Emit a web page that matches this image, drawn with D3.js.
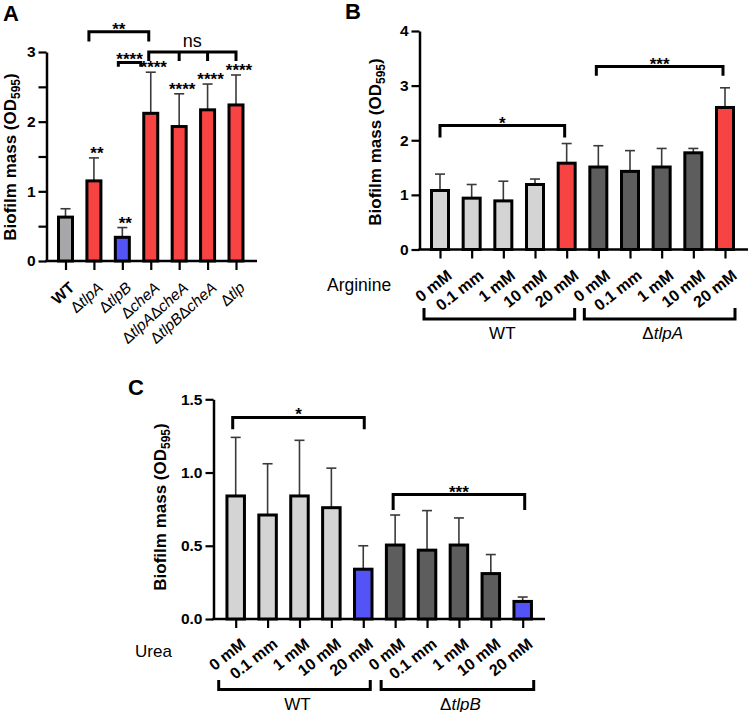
<!DOCTYPE html>
<html>
<head>
<meta charset="utf-8">
<script src="https://cdn.jsdelivr.net/npm/d3@7"></script>
<style>
  html, body { margin: 0; padding: 0; background: #fff; }
  svg { display: block; }
</style>
</head>
<body>
<svg id="chart" width="748" height="712"></svg>
<script>
// ---------------- DATA ----------------
// Panel A
const catsA = ["WT", "ΔtlpA", "ΔtlpB", "ΔcheA", "ΔtlpAΔcheA", "ΔtlpBΔcheA", "Δtlp"];
const meanA = [0.63, 1.15, 0.34, 2.12, 1.93, 2.17, 2.24];
const sdA   = [0.12, 0.33, 0.14, 0.59, 0.47, 0.37, 0.43];
const sigA  = ["", "**", "**", "****", "****", "****", "****"];
const colorKeyA = ["wtA", "red", "blue", "red", "red", "red", "red"];
const yTicksA = [0, 1, 2, 3];
const yMinorA = [0.5, 1.5, 2.5];

// Panel B (Arginine)
const concB   = ["0 mM", "0.1 mm", "1 mM", "10 mM", "20 mM", "0 mM", "0.1 mm", "1 mM", "10 mM", "20 mM"];
const strainB = ["WT", "WT", "WT", "WT", "WT", "ΔtlpA", "ΔtlpA", "ΔtlpA", "ΔtlpA", "ΔtlpA"];
const meanB   = [1.08, 0.94, 0.89, 1.19, 1.58, 1.51, 1.43, 1.51, 1.77, 2.60];
const sdB     = [0.30, 0.25, 0.36, 0.10, 0.36, 0.39, 0.38, 0.34, 0.08, 0.36];
const colorKeyB = ["light", "light", "light", "light", "red", "dark", "dark", "dark", "dark", "red"];
const yTicksB = [0, 1, 2, 3, 4];

// Panel C (Urea)
const concC   = ["0 mM", "0.1 mm", "1 mM", "10 mM", "20 mM", "0 mM", "0.1 mm", "1 mM", "10 mM", "20 mM"];
const strainC = ["WT", "WT", "WT", "WT", "WT", "ΔtlpB", "ΔtlpB", "ΔtlpB", "ΔtlpB", "ΔtlpB"];
const meanC   = [0.84, 0.71, 0.84, 0.76, 0.34, 0.505, 0.47, 0.505, 0.31, 0.12];
const sdC     = [0.40, 0.35, 0.38, 0.27, 0.16, 0.205, 0.27, 0.185, 0.13, 0.03];
const colorKeyC = ["light", "light", "light", "light", "blue", "dark", "dark", "dark", "dark", "blue"];
const yTicksC = [0, 0.5, 1.0, 1.5];

// ---------------- STYLE ----------------
const FONT = "'Liberation Sans', Arial, Helvetica, sans-serif";
const COLORS = { wtA: "#a7a7a9", red: "#f84343", blue: "#5454f6", light: "#d4d4d4", dark: "#5d5d5d" };

const svg = d3.select("#chart").style("font-family", FONT);

function yLabel(g, cx, cy) {
  const t = g.append("text")
    .attr("transform", `translate(${cx},${cy}) rotate(-90)`)
    .attr("text-anchor", "middle")
    .attr("font-size", 17).attr("font-weight", "bold").attr("fill", "#000");
  t.append("tspan").text("Biofilm mass (OD");
  t.append("tspan").attr("font-size", 12).attr("dy", 4).text("595");
  t.append("tspan").attr("dy", -4).text(")");
}

function drawAxes(g, x, y, x0, x1, ticks, fmt, minor) {
  const y0 = y(0);
  const ya = g.append("g").attr("transform", `translate(${x0},0)`)
    .call(d3.axisLeft(y).tickValues(ticks).tickFormat(fmt).tickSize(8).tickSizeOuter(0));
  ya.select(".domain").attr("stroke", "#000").attr("stroke-width", 2.5);
  ya.selectAll(".tick line").attr("stroke", "#000").attr("stroke-width", 2.2);
  ya.selectAll(".tick text").attr("font-family", FONT).attr("font-size", 15.5)
    .attr("font-weight", "bold").attr("fill", "#000").attr("x", -11);
  if (minor) {
    const ym = g.append("g").attr("transform", `translate(${x0},0)`)
      .call(d3.axisLeft(y).tickValues(minor).tickFormat("").tickSize(8).tickSizeOuter(0));
    ym.select(".domain").remove();
    ym.selectAll(".tick line").attr("stroke", "#000").attr("stroke-width", 2.2);
  }
  g.append("line").attr("x1", x0 - 1.2).attr("x2", x1).attr("y1", y0).attr("y2", y0)
    .attr("stroke", "#000").attr("stroke-width", 2.5);
  const xa = g.append("g").attr("transform", `translate(0,${y0})`)
    .call(d3.axisBottom(x).tickFormat("").tickSize(9).tickSizeOuter(0));
  xa.select(".domain").remove();
  xa.selectAll(".tick line").attr("stroke", "#000").attr("stroke-width", 2.2);
}

function drawBars(g, x, y, means, sds, keys, w) {
  const idx = d3.range(means.length);
  g.selectAll(null).data(idx).join("line")
    .attr("x1", i => x(i)).attr("x2", i => x(i))
    .attr("y1", i => y(means[i])).attr("y2", i => y(means[i] + sds[i]))
    .attr("stroke", "#3a3a3a").attr("stroke-width", 1.6);
  g.selectAll(null).data(idx).join("line")
    .attr("x1", i => x(i) - 5).attr("x2", i => x(i) + 5)
    .attr("y1", i => y(means[i] + sds[i])).attr("y2", i => y(means[i] + sds[i]))
    .attr("stroke", "#3a3a3a").attr("stroke-width", 1.6);
  g.selectAll(null).data(idx).join("rect")
    .attr("x", i => x(i) - w / 2).attr("width", w)
    .attr("y", i => y(means[i])).attr("height", i => y(0) - y(means[i]))
    .attr("fill", i => COLORS[keys[i]]).attr("stroke", "#000").attr("stroke-width", 3);
}

function bracket(g, xs, yTop, yLegs, label) {
  let d = `M${xs[0]},${yLegs[0]}V${yTop}H${xs[xs.length - 1]}V${yLegs[yLegs.length - 1]}`;
  for (let k = 1; k < xs.length - 1; k++) d += `M${xs[k]},${yTop}V${yLegs[k]}`;
  g.append("path").attr("d", d).attr("fill", "none").attr("stroke", "#000").attr("stroke-width", 3);
  if (label) {
    const cx = (xs[0] + xs[xs.length - 1]) / 2;
    const isStar = label.indexOf("*") >= 0;
    g.append("text").attr("x", cx).attr("y", isStar ? yTop + 3 : yTop - 5)
      .attr("text-anchor", "middle")
      .attr("font-size", isStar ? 17 : 18).attr("font-weight", isStar ? "bold" : "normal")
      .attr("fill", "#000").text(label);
  }
}

function groupBracket(g, xa, xb, yLeg, yBot, label, italicPart) {
  g.append("path").attr("d", `M${xa},${yLeg}V${yBot}H${xb}V${yLeg}`)
    .attr("fill", "none").attr("stroke", "#000").attr("stroke-width", 3);
  const t = g.append("text").attr("x", (xa + xb) / 2 + 3).attr("y", yBot + 20)
    .attr("text-anchor", "middle").attr("font-size", 17).attr("fill", "#000");
  if (italicPart) {
    t.append("tspan").text("Δ");
    t.append("tspan").attr("font-style", "italic").text(italicPart);
  } else t.text(label);
}

function strainText(sel, name) {
  const parts = name.split("Δ");
  if (parts.length === 1) { sel.attr("font-weight", "bold").text(name); return; }
  parts.forEach((p, k) => {
    if (k > 0) sel.append("tspan").attr("font-style", "normal").text("Δ");
    if (p) sel.append("tspan").attr("font-style", "italic").text(p);
  });
}

// ---------------- PANEL A ----------------
{
  const g = svg.append("g");
  const x = d3.scalePoint().domain(d3.range(catsA.length)).range([65.5, 236]);
  const y = d3.scaleLinear().domain([0, 3]).range([261, 52]);
  drawAxes(g, x, y, 46.5, 257, yTicksA, d3.format("d"), yMinorA);
  drawBars(g, x, y, meanA, sdA, colorKeyA, 14);
  g.selectAll(null).data(d3.range(catsA.length).filter(i => sigA[i])).join("text")
    .attr("x", i => x(i) + 3).attr("y", i => y(meanA[i] + sdA[i]) + 1)
    .attr("text-anchor", "middle").attr("font-size", 17).attr("font-weight", "bold")
    .text(i => sigA[i]);
  g.selectAll(null).data(d3.range(catsA.length)).join("text")
    .attr("transform", i => `translate(${x(i) + 10},${y(0) + 28}) rotate(-42)`)
    .attr("text-anchor", "end").attr("font-size", 15.5).attr("fill", "#000")
    .each(function (i) { strainText(d3.select(this), catsA[i]); });
  bracket(g, [x(1) - 5, x(3) - 2], y(3.29), [y(3.15), y(3.15)], "**");
  bracket(g, [x(2) - 4, x(3) - 10], y(2.85), [y(2.79), y(2.79)], "****");
  bracket(g, [x(3) - 2, x(4), x(5), x(6)], y(3.0), [y(2.87), y(2.87), y(2.87), y(2.87)], "ns");
  yLabel(g, 16, 157);
  g.append("text").attr("x", 3).attr("y", 21).attr("font-size", 22).attr("font-weight", "bold").text("A");
}

// ---------------- PANEL B ----------------
{
  const g = svg.append("g");
  const x = d3.scalePoint().domain(d3.range(meanB.length)).range([440, 725]);
  const y = d3.scaleLinear().domain([0, 4]).range([249.5, 31]);
  drawAxes(g, x, y, 419.5, 748, yTicksB, d3.format("d"), null);
  drawBars(g, x, y, meanB, sdB, colorKeyB, 17);
  g.selectAll(null).data(d3.range(concB.length)).join("text")
    .attr("transform", i => `translate(${x(i) + 13},${y(0) + 28}) rotate(-38)`)
    .attr("text-anchor", "end").attr("font-size", 16).attr("font-weight", "bold").attr("fill", "#000")
    .text(i => concB[i]);
  g.append("text").attr("x", 327).attr("y", 291).attr("font-size", 17.5).text("Arginine");
  bracket(g, [x(0), x(4) - 2], y(2.27), [y(2.05), y(2.05)], "*");
  bracket(g, [x(5) - 2, x(9) - 2], y(3.35), [y(3.18), y(3.18)], "***");
  const s1 = d3.range(strainB.length).filter(i => strainB[i] === "WT");
  const s2 = d3.range(strainB.length).filter(i => strainB[i] !== "WT");
  groupBracket(g, x(s1[0]) - 16, x(s1[s1.length - 1]) + 8, 308, 319, "WT");
  groupBracket(g, x(s2[0]) - 14, x(s2[s2.length - 1]) + 10, 308, 319, null, "tlpA");
  yLabel(g, 381, 142);
  g.append("text").attr("x", 345).attr("y", 19).attr("font-size", 22).attr("font-weight", "bold").text("B");
}

// ---------------- PANEL C ----------------
{
  const g = svg.append("g");
  const x = d3.scalePoint().domain(d3.range(meanC.length)).range([235.7, 522.7]);
  const y = d3.scaleLinear().domain([0, 1.5]).range([619, 399.3]);
  drawAxes(g, x, y, 213.5, 545, yTicksC, d3.format(".1f"), null);
  drawBars(g, x, y, meanC, sdC, colorKeyC, 17.5);
  g.selectAll(null).data(d3.range(concC.length)).join("text")
    .attr("transform", i => `translate(${x(i) + 11},${y(0) + 27}) rotate(-38)`)
    .attr("text-anchor", "end").attr("font-size", 16).attr("font-weight", "bold").attr("fill", "#000")
    .text(i => concC[i]);
  g.append("text").attr("x", 135).attr("y", 657).attr("font-size", 17).text("Urea");
  bracket(g, [x(0) - 3, x(4) + 1], y(1.376), [y(1.296), y(1.296)], "*");
  bracket(g, [x(5) - 2, x(9) + 2], y(0.85), [y(0.744), y(0.744)], "***");
  const s1 = d3.range(strainC.length).filter(i => strainC[i] === "WT");
  const s2 = d3.range(strainC.length).filter(i => strainC[i] !== "WT");
  groupBracket(g, x(s1[0]) - 17, x(s1[s1.length - 1]) + 7, 680, 689.5, "WT");
  groupBracket(g, x(s2[0]) - 14, x(s2[s2.length - 1]) + 11, 680, 689.5, null, "tlpB");
  yLabel(g, 166, 507);
  g.append("text").attr("x", 128).attr("y", 395).attr("font-size", 22).attr("font-weight", "bold").text("C");
}
</script>
</body>
</html>
